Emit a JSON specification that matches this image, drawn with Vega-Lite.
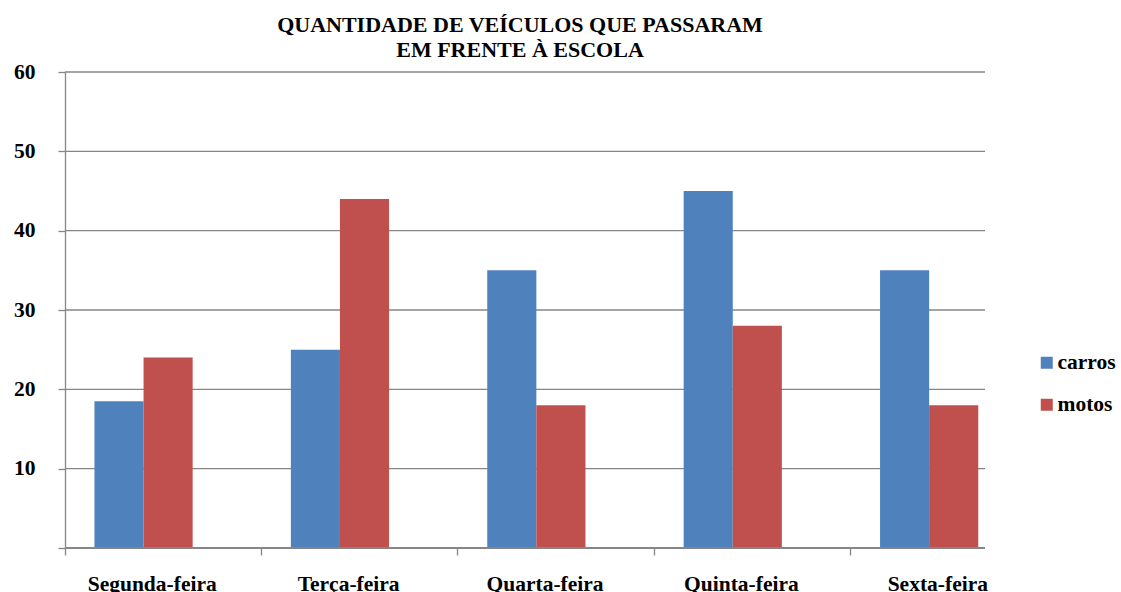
{
  "$schema": "https://vega.github.io/schema/vega-lite/v6.json",
  "autosize": "none",
  "padding": {"left": 65, "top": 72, "right": 136, "bottom": 44},
  "width": 920,
  "height": 476,
  "background": "white",
  "title": {
    "text": ["QUANTIDADE DE VEÍCULOS QUE PASSARAM", "EM FRENTE À ESCOLA"],
    "font": "Liberation Serif, Times New Roman, serif",
    "fontSize": 22,
    "fontWeight": "bold",
    "color": "#000000",
    "lineHeight": 25,
    "baseline": "bottom",
    "offset": 11,
    "dy": 34,
    "anchor": "middle",
    "dx": -5
  },
  "data": {
    "values": [
      {"dia": "Segunda-feira", "tipo": "carros", "valor": 18.5},
      {"dia": "Segunda-feira", "tipo": "motos", "valor": 24},
      {"dia": "Terça-feira", "tipo": "carros", "valor": 25},
      {"dia": "Terça-feira", "tipo": "motos", "valor": 44},
      {"dia": "Quarta-feira", "tipo": "carros", "valor": 35},
      {"dia": "Quarta-feira", "tipo": "motos", "valor": 18},
      {"dia": "Quinta-feira", "tipo": "carros", "valor": 45},
      {"dia": "Quinta-feira", "tipo": "motos", "valor": 28},
      {"dia": "Sexta-feira", "tipo": "carros", "valor": 35},
      {"dia": "Sexta-feira", "tipo": "motos", "valor": 18}
    ]
  },
  "layer": [
    {
      "data": {"values": [{"g": 10}, {"g": 20}, {"g": 30}, {"g": 40}, {"g": 50}, {"g": 60}]},
      "mark": {"type": "rule", "color": "#868686", "strokeWidth": 1.3},
      "encoding": {"y": {"field": "g", "type": "quantitative"}}
    },
    {
      "mark": {"type": "bar"},
      "encoding": {
        "x": {
          "field": "dia",
          "type": "nominal",
          "sort": ["Segunda-feira", "Terça-feira", "Quarta-feira", "Quinta-feira", "Sexta-feira"],
          "scale": {"range": [0, 982], "paddingInner": 0, "paddingOuter": 0},
          "axis": {
            "title": null,
            "bandPosition": 0,
            "labelOffset": -11,
            "labelAngle": 0,
            "labelFont": "Liberation Serif, Times New Roman, serif",
            "labelFontSize": 21.5,
            "labelFontWeight": "bold",
            "labelColor": "#000000",
            "labelPadding": 18,
            "tickSize": 7,
            "tickColor": "#868686",
            "tickWidth": 1.3,
            "domain": false,
            "grid": false
          }
        },
        "xOffset": {
          "field": "tipo",
          "type": "nominal",
          "scale": {"paddingInner": 0, "paddingOuter": 1.257, "align": 0.3}
        },
        "y": {
          "field": "valor",
          "type": "quantitative",
          "scale": {"domain": [0, 60], "nice": false},
          "axis": {
            "title": null,
            "values": [0, 10, 20, 30, 40, 50, 60],
            "labelExpr": "datum.value == 0 ? '' : datum.label",
            "labelFont": "Liberation Serif, Times New Roman, serif",
            "labelFontSize": 21.5,
            "labelFontWeight": "bold",
            "labelColor": "#000000",
            "labelPadding": 23,
            "tickSize": 7,
            "tickColor": "#868686",
            "tickWidth": 1.3,
            "domainColor": "#868686",
            "domainWidth": 1.3,
            "grid": false
          }
        },
        "color": {
          "field": "tipo",
          "type": "nominal",
          "scale": {"domain": ["carros", "motos"], "range": ["#4F81BD", "#C0504D"]},
          "legend": {
            "title": null,
            "orient": "none",
            "legendX": 971,
            "legendY": 280,
            "padding": 0,
            "symbolType": "square",
            "symbolSize": 144,
            "symbolStrokeWidth": 0,
            "labelFont": "Liberation Serif, Times New Roman, serif",
            "labelFontSize": 21.5,
            "labelFontWeight": "bold",
            "labelColor": "#000000",
            "labelOffset": 0,
            "rowPadding": 19
          }
        }
      }
    },
    {
      "mark": {"type": "rule", "color": "#868686", "strokeWidth": 1.3},
      "encoding": {"y": {"datum": 0}}
    }
  ],
  "config": {"view": {"stroke": null}}
}
